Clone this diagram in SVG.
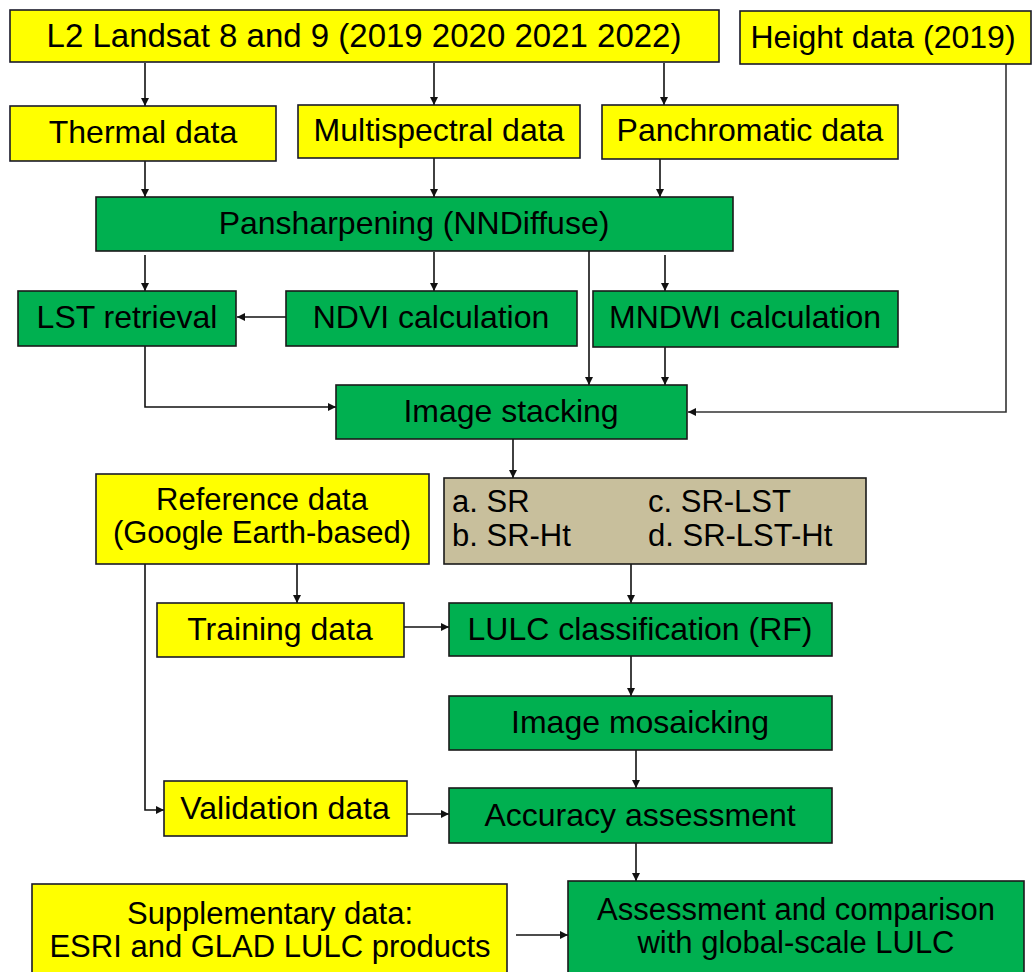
<svg xmlns="http://www.w3.org/2000/svg" width="1033" height="972" viewBox="0 0 1033 972">
<style>
  .y { fill: #FFFF00; stroke: #1a1a2a; stroke-width: 1.6; }
  .g { fill: #00B050; stroke: #1a1a1a; stroke-width: 1.6; }
  .t { fill: #C8BF9C; stroke: #1a1a1a; stroke-width: 1.6; }
  text { font-family: "Liberation Sans", Arial, sans-serif; font-size: 32px; fill: #000; }
  .c { text-anchor: middle; }
  .two { font-size: 31px; }
  .conn { fill: none; stroke: #111; stroke-width: 1.6; marker-end: url(#ah); }
</style>
<defs>
  <marker id="ah" viewBox="0 0 10 10" refX="10" refY="5" markerWidth="9" markerHeight="8" markerUnits="userSpaceOnUse" orient="auto">
    <path d="M0,0 L10,5 L0,10 Z" fill="#111"/>
  </marker>
</defs>
<rect width="1033" height="972" fill="#fff"/>

<g id="connectors">
  <path class="conn" d="M145,63 V106"/>
  <path class="conn" d="M434,63 V105"/>
  <path class="conn" d="M664,63 V105"/>
  <path class="conn" d="M145,161 V197"/>
  <path class="conn" d="M434,158 V197"/>
  <path class="conn" d="M660,159 V197"/>
  <path class="conn" d="M145,255 V291"/>
  <path class="conn" d="M434,252 V291"/>
  <path class="conn" d="M665,255 V291"/>
  <path class="conn" d="M589,251 V385"/>
  <path class="conn" d="M665,347 V385"/>
  <path class="conn" d="M286,317 H237"/>
  <path class="conn" d="M145,346 V407 H336"/>
  <path class="conn" d="M1006,64 V412 H688" style="stroke:#333"/>
  <path class="conn" d="M513,439 V478"/>
  <path class="conn" d="M297,564 V603"/>
  <path class="conn" d="M631,564 V603"/>
  <path class="conn" d="M404,627 H449"/>
  <path class="conn" d="M631,656 V696"/>
  <path class="conn" d="M145,564 V810 H164"/>
  <path class="conn" d="M407,814 H449"/>
  <path class="conn" d="M636,750 V788"/>
  <path class="conn" d="M636,843 V881"/>
  <path class="conn" d="M516,935 H568"/>
</g>

<g id="landsat"><rect class="y" x="10" y="10" width="709" height="52"/><text class="c" x="364" y="47" style="font-size:33px">L2 Landsat 8 and 9 (2019 2020 2021 2022)</text></g>
<g id="height"><rect class="y" x="740" y="11" width="291" height="53"/><text class="c" x="883" y="48">Height data (2019)</text></g>
<g id="thermal"><rect class="y" x="10" y="106" width="266" height="55"/><text class="c" x="143" y="143">Thermal data</text></g>
<g id="multispectral"><rect class="y" x="298" y="105" width="282" height="53"/><text class="c" x="439" y="141">Multispectral data</text></g>
<g id="panchromatic"><rect class="y" x="602" y="105" width="296" height="54"/><text class="c" x="750" y="141">Panchromatic data</text></g>
<g id="pansharpening"><rect class="g" x="96" y="197" width="637" height="54"/><text class="c" x="414" y="234">Pansharpening (NNDiffuse)</text></g>
<g id="lst"><rect class="g" x="18" y="291" width="218" height="55"/><text class="c" x="127" y="328">LST retrieval</text></g>
<g id="ndvi"><rect class="g" x="286" y="291" width="291" height="55"/><text class="c" x="431" y="328">NDVI calculation</text></g>
<g id="mndwi"><rect class="g" x="593" y="291" width="305" height="56"/><text class="c" x="745" y="328">MNDWI calculation</text></g>
<g id="stacking"><rect class="g" x="336" y="385" width="351" height="54"/><text class="c" x="511" y="422">Image stacking</text></g>
<g id="reference"><rect class="y" x="96" y="474" width="333" height="90"/><text class="c two" x="262" y="510">Reference data</text><text class="c two" x="262" y="543">(Google Earth-based)</text></g>
<g id="combos"><rect class="t" x="444" y="478" width="422" height="86"/>
  <text class="two" x="452" y="512">a. SR</text><text class="two" x="452" y="546">b. SR-Ht</text>
  <text class="two" x="648" y="512">c. SR-LST</text><text class="two" x="648" y="546">d. SR-LST-Ht</text></g>
<g id="training"><rect class="y" x="157" y="603" width="247" height="54"/><text class="c" x="280" y="640">Training data</text></g>
<g id="lulc"><rect class="g" x="449" y="603" width="383" height="53"/><text class="c" x="640" y="640">LULC classification (RF)</text></g>
<g id="mosaicking"><rect class="g" x="449" y="696" width="383" height="54"/><text class="c" x="640" y="733">Image mosaicking</text></g>
<g id="validation"><rect class="y" x="164" y="781" width="243" height="55"/><text class="c" x="285" y="819">Validation data</text></g>
<g id="accuracy"><rect class="g" x="449" y="788" width="383" height="55"/><text class="c" x="640" y="826">Accuracy assessment</text></g>
<g id="supplementary"><rect class="y" x="32" y="884" width="475" height="95"/><text class="c two" x="270" y="924">Supplementary data:</text><text class="c two" x="270" y="957">ESRI and GLAD LULC products</text></g>
<g id="assessment"><rect class="g" x="568" y="881" width="456" height="95"/><text class="c two" x="796" y="920">Assessment and comparison</text><text class="c two" x="796" y="953">with global-scale LULC</text></g>
</svg>
